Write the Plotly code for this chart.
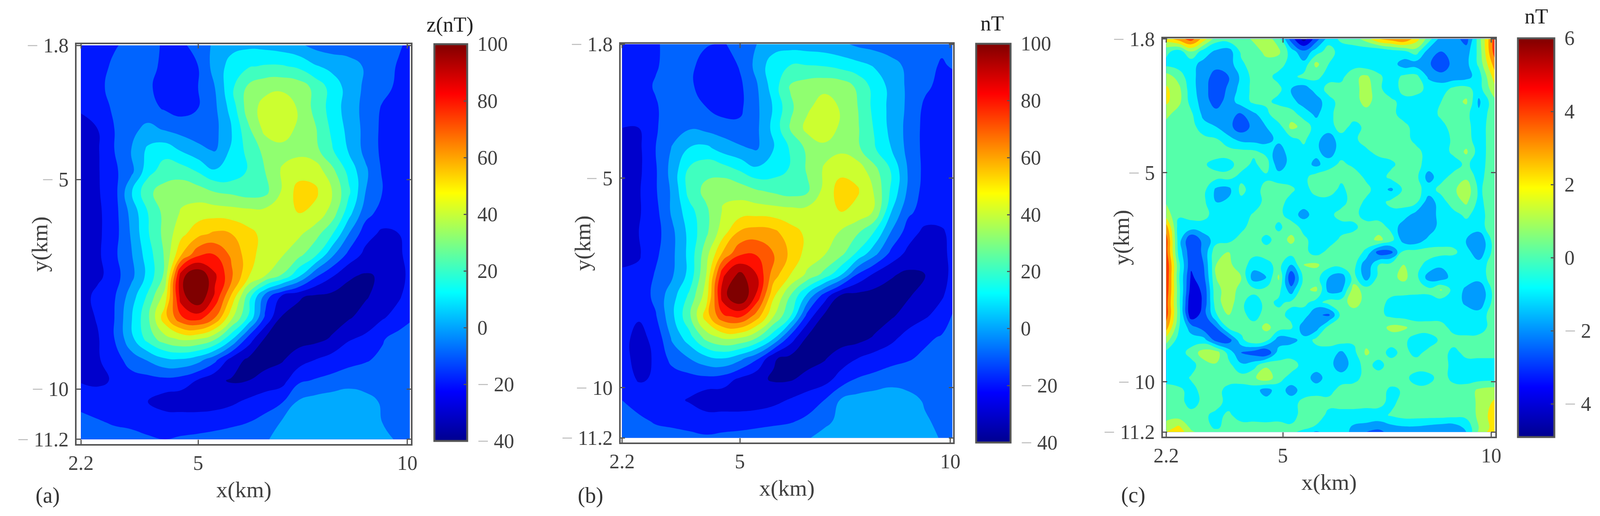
import plotly.graph_objects as go

x_km_a = [2.2,2.6,3.0,3.4,3.8,4.2,4.6,5.0,5.4,5.8,6.2,6.6,7.0,7.4,7.8,8.2,8.6,9.0,9.4,9.8,10.06]
y_km_ab = [-1.8,-2.3,-2.8,-3.3,-3.8,-4.3,-4.8,-5.3,-5.8,-6.3,-6.8,-7.3,-7.8,-8.3,-8.8,-9.3,-9.8,-10.3,-10.8,-11.2]
z_a = [
[-15,-14,-11,-7,-5,-12,-12,-6,2,7,8,7,5,2,-3,-5,-5,-6,-7,-9,-12],
[-16,-14,-8,-6,-3,-15,-15,-10,4,14,19,21,21,18,11,7,4,-1,-6,-11,-15],
[-17,-13,-6,-4,-8,-15,-16,-10,0,18,32,37,38,36,27,16,6,-2,-7,-12,-15],
[-19,-16,-8,-6,-7,-11,-14,-10,-2,14,35,44,47,39,27,16,5,-3,-11,-14,-16],
[-23,-20,-10,-3,3,-1,-4,-6,-3,10,28,43,45,38,31,18,7,-3,-12,-15,-16],
[-24,-21,-10,0,12,16,9,3,-1,12,23,33,37,37,33,21,9,-3,-12,-15,-16],
[-25,-21,-12,-3,16,25,25,19,11,13,21,30,41,46,46,33,17,2,-11,-15,-16],
[-25,-21,-14,9,28,34,37,35,30,28,25,27,41,54,52,40,22,0,-10,-15,-16],
[-25,-22,-14,3,20,33,41,45,46,45,44,44,46,50,47,36,14,-6,-14,-17,-17],
[-25,-22,-14,1,19,33,47,57,62,60,53,47,44,42,34,21,0,-16,-22,-20,-18],
[-25,-22,-12,-1,15,31,60,78,80,68,55,44,41,33,22,2,-13,-23,-25,-21,-18],
[-26,-23,-14,-3,13,32,97,110,92,72,51,40,29,12,-8,-19,-29,-31,-29,-23,-18],
[-26,-16,-11,5,22,44,96,110,88,58,25,-5,-22,-29,-32,-33,-33,-31,-26,-21,-16],
[-25,-19,-10,9,28,56,79,85,70,42,19,-12,-31,-33,-34,-34,-31,-26,-21,-16,-12],
[-24,-21,-10,7,24,36,42,41,32,12,-14,-31,-33,-34,-33,-29,-21,-18,-11,-6,-3],
[-23,-21,-15,-5,1,8,9,4,-7,-24,-32,-33,-31,-25,-20,-16,-13,-11,-8,-4,-2],
[-21,-22,-19,-15,-14,-13,-15,-21,-28,-31,-30,-27,-24,-12,-9,-7,-5,-4,-3,-2,-1],
[-13,-15,-17,-18,-20,-25,-26,-26,-25,-22,-18,-14,-11,1,4,6,8,3,-1,-3,-4],
[-7,-9,-11,-12,-13,-14,-14,-14,-13,-12,-10,-7,1,4,6,7,7,6,0,-2,-3],
[-4,-5,-6,-7,-9,-10,-9,-8,-7,-5,-3,-1,3,5,6,7,7,6,2,-1,-2],
]
x_km_b = [2.2,2.6,3.0,3.4,3.8,4.2,4.6,5.0,5.4,5.8,6.2,6.6,7.0,7.4,7.8,8.2,8.6,9.0,9.4,9.8,10.05]
z_b = [
[-13,-12,-11,-7,-3,-9,-11,-6,0,5,6,5,4,2,-2,-4,-5,-6,-7,-8,-9],
[-15,-14,-11,-6,-7,-15,-16,-9,3,16,20,20,19,16,13,9,3,-2,-7,-11,-9],
[-16,-14,-9,-5,-8,-15,-17,-12,-1,15,31,35,37,36,28,16,7,-2,-8,-13,-14],
[-17,-15,-11,-5,-6,-10,-15,-12,-2,11,28,38,45,39,30,17,7,-2,-12,-15,-15],
[-20,-20,-11,-4,-1,-3,-5,-8,-2,13,31,43,47,38,31,19,7,-3,-13,-16,-16],
[-23,-22,-10,1,11,13,6,2,-1,10,21,32,37,38,32,21,10,-3,-13,-16,-17],
[-24,-22,-11,4,22,27,25,19,12,15,21,31,41,47,46,33,19,-1,-13,-16,-17],
[-24,-21,-11,2,24,33,38,36,31,28,25,28,43,55,51,39,18,-2,-14,-16,-17],
[-24,-21,-13,2,16,28,41,45,46,45,44,44,46,50,47,39,10,-8,-14,-17,-17],
[-24,-20,-14,-2,13,28,46,62,65,63,54,48,44,39,31,19,-1,-15,-23,-21,-18],
[-22,-21,-12,-2,13,36,62,78,79,70,58,46,41,33,18,3,-13,-23,-26,-22,-18],
[-19,-18,-9,-1,13,40,88,103,90,65,50,38,27,11,-11,-22,-29,-32,-30,-23,-18],
[-18,-17,-7,6,22,45,96,112,88,52,30,8,-14,-31,-33,-34,-34,-31,-26,-21,-16],
[-20,-19,-11,8,28,55,78,82,65,40,20,-14,-32,-34,-35,-35,-31,-26,-21,-16,-9],
[-17,-23,-17,2,16,34,42,41,31,13,-14,-31,-34,-35,-34,-29,-23,-16,-12,-9,-4],
[-17,-23,-19,-6,0,7,10,3,-8,-29,-33,-34,-31,-25,-20,-16,-13,-11,-8,-5,-3],
[-15,-21,-19,-16,-14,-13,-15,-22,-28,-31,-31,-27,-24,-16,-9,-7,-5,-4,-3,-2,-1],
[-10,-14,-16,-17,-21,-27,-27,-27,-26,-23,-19,-15,-10,1,4,6,8,3,-1,-3,-4],
[-6,-8,-11,-12,-13,-14,-14,-14,-13,-12,-11,-8,-3,3,6,7,7,6,1,-2,-3],
[-4,-5,-6,-7,-8,-9,-8,-7,-6,-5,-3,-1,4,5,6,7,7,6,4,-1,-2],
]
x_km_c = [2.2,2.5,2.8,3.1,3.4,3.7,4.0,4.3,4.6,4.9,5.2,5.5,5.8,6.1,6.4,6.7,7.0,7.3,7.6,7.9,8.2,8.5,8.8,9.1,9.4,9.7,10.08]
y_km_c = [-1.8,-2.1,-2.4,-2.7,-3.0,-3.3,-3.6,-3.9,-4.2,-4.5,-4.8,-5.1,-5.4,-5.7,-6.0,-6.3,-6.6,-6.9,-7.2,-7.5,-7.8,-8.1,-8.4,-8.7,-9.0,-9.3,-9.6,-9.9,-10.2,-10.5,-10.8,-11.1,-11.2]
z_c = [
[2.5,3.5,4.5,2.5,0.5,0.5,0.5,1.2,1.5,0.5,-2.5,-4.5,-2.5,-0.5,0.2,0.5,1.5,3,3.5,4,2.5,0.5,-1.5,-1.5,-2.5,0.5,4.5],
[0.3,-0.5,1.0,-0.5,-1.2,-1.5,0.2,0.5,1.3,1.2,-0.5,-1.8,-0.5,0.5,-0.5,-0.5,-0.8,-1.0,-0.5,-0.2,0.5,-1.5,-2.0,-1.5,-1.5,0.3,4.5],
[-0.3,-0.5,-0.7,-1.3,-1.6,-1.5,-0.2,0.5,0.6,0.5,-0.5,-0.7,1.3,0.0,-0.5,-0.5,-0.7,-0.6,-0.5,-1.5,-1.5,-1.8,-3.0,-1.5,-1.3,0.2,3.5],
[1.5,0.6,-0.7,-1.5,-2.5,-2.0,-0.8,0.4,0.4,-0.4,-0.3,0.3,0.2,-0.3,-0.3,0.8,1.2,0.2,-0.5,0.2,0.3,-1.2,-1.5,-1.6,-1.4,-0.5,2.5],
[2.2,1.3,-0.6,-1.6,-2.7,-1.8,-0.6,0.3,0.4,0.3,-1.0,-1.6,-0.5,0.3,0.4,0.5,1.6,0.2,-0.5,0.3,0.4,-0.3,-0.5,0.3,0.4,-0.5,1.7],
[2.2,1.3,-0.4,-1.5,-2.5,-1.5,-0.5,0.2,0.3,-0.4,-0.7,-1.4,-1.6,-0.3,0.3,0.4,1.5,0.3,0.2,-0.3,-0.5,-0.5,0.0,0.5,1.2,-1.2,0.7],
[1.3,0.5,0.2,-1.3,-1.6,-1.8,-2.1,-1.2,-0.4,1.0,0.5,-0.5,-1.2,-0.3,0.5,0.4,0.4,0.3,0.3,-0.4,-0.5,-0.5,0.2,0.5,0.3,-0.8,0.7],
[0.6,0.5,0.4,-0.6,-1.0,-1.7,-2.6,-1.7,-1.0,-0.5,1.3,0.7,-0.5,-0.4,0.4,-0.3,0.2,0.4,0.4,0.3,-0.4,-0.5,-0.3,0.4,0.3,-0.5,0.6],
[0.6,0.5,0.5,0.3,0.1,-0.7,-1.3,-1.4,-1.4,-0.7,-0.3,0.2,-0.7,-1.6,-0.4,-0.2,0.4,0.4,0.5,0.4,-0.3,-0.5,-0.5,0.2,0.4,-0.5,0.6],
[0.6,0.5,0.5,0.5,0.4,0.4,0.3,0.2,-0.3,-1.6,-0.4,-0.3,-0.7,-1.6,-0.4,-0.4,-0.2,0.3,0.4,0.4,0.3,-0.4,-0.4,0.2,1.2,-0.5,0.6],
[0.7,0.5,0.4,0.1,-0.3,-0.3,0.4,-0.2,0.5,-1.7,-0.5,-0.5,-1.3,-0.4,0.2,-0.2,-0.5,-0.5,-0.2,0.4,0.3,-0.4,-0.5,-0.4,0.2,-0.5,0.7],
[0.8,0.5,0.5,0.4,0.3,0.3,-0.3,-0.4,-0.2,-0.4,-0.5,-0.3,0.5,0.6,0.3,0.5,-0.2,-0.5,0.3,0.4,0.3,-1.5,-0.3,0.3,0.8,-0.4,0.8],
[0.9,0.5,0.5,0.3,-1.2,-1.3,0.3,-0.5,0.4,0.4,0.2,-0.5,0.5,0.6,-0.3,0.6,0.3,-0.5,-1.2,0.2,0.3,-0.4,0.3,0.8,1.7,-0.2,0.7],
[0.9,0.5,0.4,0.2,-1.0,-0.8,-0.3,-0.5,0.3,0.4,-0.4,-0.5,-0.5,-0.5,-0.4,0.5,-0.2,-0.4,0.3,0.4,0.2,-1.6,-0.4,0.5,1.2,-0.3,0.7],
[1.5,0.2,0.4,0.3,-0.4,-0.5,-0.4,0.1,0.4,0.3,-0.5,-1.4,-0.5,-0.3,0.4,0.3,-0.4,-0.5,-0.4,-0.5,-1.4,-1.7,-0.5,-0.3,0.2,-0.4,0.6],
[3.5,-0.5,-0.5,-0.4,-0.4,-0.3,-0.3,0.5,0.5,-0.2,0.5,-0.3,-0.5,-0.5,-0.4,-0.2,0.4,0.5,-0.3,-1.6,-1.6,-1.7,-0.5,-0.3,-0.4,-0.4,0.6],
[4.5,-0.5,-3.0,-1.6,-0.5,-0.3,0.4,0.5,-0.3,0.4,1.3,0.2,-0.4,-0.5,0.2,0.4,0.5,1.3,0.4,-1.5,-1.7,-0.7,-0.4,-0.4,-1.0,-2.0,0.6],
[4.5,-0.3,-2.8,-1.8,0.8,1.0,0.4,0.3,0.4,0.4,0.4,0.3,-0.4,0.3,0.4,0.5,-0.2,-2.5,-2.3,0.3,0.4,0.4,0.3,0.2,-0.5,-1.8,0.5],
[5,0.3,-2.8,-2.0,1.0,1.2,0.5,-0.5,-0.3,0.3,-1.0,1.0,1.2,0.4,0.4,0.4,-1.8,0.0,0.4,1.0,0.3,-0.3,-0.8,-0.7,-0.4,-0.5,0.5],
[5,0.2,-3.2,-2.3,1.0,1.2,1.0,-1.6,-1.0,1.2,-3.0,0.3,0.4,-1.0,-1.6,0.4,-1.5,0.3,0.7,1.3,0.3,-1.5,-1.6,-0.5,-0.5,-0.5,0.5],
[4.8,0.4,-3.5,-2.8,0.8,1.3,0.8,0.3,0.3,0.3,-1.6,0.8,1.2,-1.4,-1.3,1.5,0.5,0.3,0.4,0.4,0.3,0.3,1.1,-0.4,-1.2,-2.0,0.5],
[4.5,0.4,-4.0,-2.8,0.6,1.6,0.2,-0.5,0.3,-0.2,0.2,0.3,-0.4,0.4,0.5,1.5,0.6,0.4,-0.3,-0.5,-0.5,-0.5,-0.5,-0.5,-1.2,-1.8,0.5],
[4.5,0.5,-3.8,-2.5,-0.1,1.0,0.3,-0.4,0.4,0.3,-0.3,-0.5,-1.8,-2.2,0.3,0.4,0.4,0.3,-0.3,-0.5,-0.5,-0.5,-0.5,-0.5,-0.5,-0.5,0.5],
[3.5,0.1,-1.5,-2.5,-2.0,0.2,0.4,0.4,1.3,0.5,0.2,-1.6,-1.5,0.4,1.0,0.3,0.4,0.5,1.3,1.2,0.5,0.5,0.4,-0.4,-0.5,-0.5,0.5],
[1.5,-0.5,-0.5,-0.6,-2.4,-2.5,-0.3,0.9,0.3,-1.6,-1.3,-0.7,0.3,0.4,0.5,0.2,0.6,0.5,0.4,0.2,-0.4,-0.5,0.2,0.4,0.3,0.4,0.5],
[-0.3,-0.5,0.4,1.5,1.5,-0.4,-2.0,-2.5,-3.0,-0.5,-0.4,-0.4,-0.5,-0.4,-1.2,-0.3,1.2,0.4,-0.3,0.3,-0.3,0.3,0.4,-0.3,0.3,0.4,0.4],
[-0.4,-0.5,-0.4,0.6,0.9,0.3,-0.8,-0.4,0.8,0.3,0.4,-0.3,-0.4,-0.5,-1.8,-0.4,0.3,-0.3,0.4,0.5,0.5,0.5,0.4,-0.3,-0.4,-0.5,-0.5],
[-0.3,-0.5,0.1,0.4,0.4,0.4,0.4,0.8,1.8,0.3,-0.3,-0.4,-1.5,-0.5,-0.4,-0.3,0.3,0.4,0.5,0.3,-0.4,-0.3,0.4,-0.3,-0.4,-0.5,-0.5],
[0.3,0.2,-0.3,0.3,0.3,-0.3,-0.4,-0.5,-1.5,-0.4,-1.5,-0.5,-0.4,-0.3,0.3,0.4,1.0,0.4,-0.2,0.1,0.3,0.3,0.4,0.4,0.4,1.2,1.5],
[0.4,0.3,-0.3,0.2,0.4,-0.4,-0.5,-0.5,-0.5,-0.5,-0.4,0.3,0.5,0.3,0.4,0.4,0.3,0.2,-0.2,0.3,0.4,0.4,0.4,0.4,0.4,1.2,2.2],
[0.6,0.5,0.3,0.2,-0.3,0.2,-0.5,-0.4,-0.5,-0.4,-0.4,0.4,0.6,-0.3,-0.4,-0.4,-0.4,-0.3,0.1,0.4,0.4,0.4,0.4,0.3,0.3,1.2,2.6],
[1.5,2.3,0.8,0.5,-0.2,0.5,0.5,0.4,0.4,0.4,0.2,0.2,-0.2,-0.4,-0.5,-1.2,-1.4,-1.8,-1.4,-1.2,-1.2,-1.4,-1.6,-1.6,-0.8,1.0,2.5],
[2.0,2.7,1.2,0.6,0.6,1.0,1.0,0.4,0.4,0.4,0.2,-0.3,-1.2,-0.5,-0.5,-1.3,-2,-2.3,-1.6,-1.4,-1.5,-1.7,-2,-2,-1,1.2,2.8],
]
x_ticks = [2.2, 5, 10]
x_ticktext = ["2.2", "5", "10"]
y_ticks = [-1.8, -5, -10, -11.2]
y_ticktext = ["1.8", "5", "10", "11.2"]
cbar_ticks_ab = [100, 80, 60, 40, 20, 0, -20, -40]
cbar_ticks_c = [6, 4, 2, 0, -2, -4]
band_colors_ab = ["#00008B","#0000CC","#0018FF","#0064FF","#00AAFF","#00F4FF","#40FFBF","#90FF70","#CCFF30","#FFD800","#FFA000","#FF5800","#FF1000","#BF0000","#7F0000"]
band_colors_c = ["#00009F","#0000E0","#0050FF","#009CFF","#00F0FF","#55FFAA","#AAFF55","#FFE600","#FF9A00","#FF3A00","#D00000"]
jet = [[0,"#00008F"],[0.125,"#0000FF"],[0.375,"#00FFFF"],[0.625,"#FFFF00"],[0.875,"#FF0000"],[1,"#800000"]]

W, H = 4176, 1320
GREY = "#555555"
TXT = "#404040"
SERIF = "Liberation Serif"

def faint(t, gap=" "):
    return '<span style="color:#bdbdbd">−</span>' + gap + t

panels = [
  dict(x=x_km_a, y=y_km_ab, z=z_a, frame=(200,1073,113,1136), xr=(2.097,10.09), yr=(-11.315,-1.772),
       cb=(1134,1220,113,1128), zr=(-40,100), start=-30, end=100, size=10, colors=band_colors_ab, ct=cbar_ticks_ab, ytx=103),
  dict(x=x_km_b, y=y_km_ab, z=z_b, frame=(1620,2488,112,1132), xr=(2.168,10.07), yr=(-11.31,-1.79),
       cb=(2548,2638,112,1132), zr=(-40,100), start=-30, end=100, size=10, colors=band_colors_ab, ct=cbar_ticks_ab, ytx=1520),
  dict(x=x_km_c, y=y_km_c, z=z_c, frame=(3035,3903,98,1117), xr=(2.12,10.10), yr=(-11.31,-1.785),
       cb=(3962,4057,98,1118), zr=(-4.9,6), start=-4, end=5, size=1, colors=band_colors_c, ct=cbar_ticks_c, ytx=2927),
]

def note(text, px, py, size=56, color="#333333", angle=0, xanchor="center"):
    return dict(text=text, x=px/W, y=1-py/H, xref="paper", yref="paper", xanchor=xanchor, yanchor="middle",
                showarrow=False, textangle=angle, font=dict(family=SERIF, size=size, color=color))

fig = go.Figure()
layout = dict(autosize=True, margin=dict(l=0,r=0,t=0,b=0,pad=0,autoexpand=False), plot_bgcolor="white", paper_bgcolor="white",
              font=dict(family=SERIF, size=52, color=TXT), showlegend=False)
notes = [
    note("(a)", 124, 1267), note("(b)", 1541, 1267), note("(c)", 2958, 1266),
    note("z(nT)", 1175, 63, 54, "#222222"), note("nT", 2590, 60, 54, "#222222"), note("nT", 4010, 42, 54, "#222222"),
]
for i, p in enumerate(panels, start=1):
    sfx = "" if i == 1 else str(i)
    l, r, t, b = p["frame"]
    n = len(p["colors"])
    cs = [[k/(n-1), c] for k, c in enumerate(p["colors"])]
    cl, cr, ct, cb = p["cb"]
    zlo, zhi = p["zr"]
    fig.add_trace(go.Heatmap(x=p["x"], y=p["y"], z=p["z"], opacity=0, colorscale=jet, zmin=zlo, zmax=zhi,
        xaxis="x"+sfx, yaxis="y"+sfx, hoverinfo="skip", showscale=True,
        colorbar=dict(x=cl/W, xanchor="left", y=1-ct/H, yanchor="top", thickness=(cr-cl)/W, thicknessmode="fraction",
            len=(cb-ct)/H, lenmode="fraction", xpad=0, ypad=0, outlinecolor=GREY, outlinewidth=5,
            ticks="inside", ticklen=11, tickwidth=3, tickcolor=GREY, tickvals=p["ct"], showticklabels=False)))
    # colour-bar labels sit at the reference's distance from the bar, a gap the native labels cannot reach
    for v in p["ct"]:
        vy = ct + (zhi - v) / (zhi - zlo) * (cb - ct)
        notes.append(note(str(v) if v >= 0 else faint(str(-v)), cr + 24, vy, 52, TXT, xanchor="left"))
    fig.add_trace(go.Contour(x=p["x"], y=p["y"], z=p["z"], xaxis="x"+sfx, yaxis="y"+sfx, colorscale=cs, showscale=False,
        autocontour=False, contours=dict(start=p["start"], end=p["end"], size=p["size"], coloring="fill", showlines=False),
        line=dict(width=0, smoothing=1.3), hoverinfo="skip"))
    ax = dict(showgrid=False, zeroline=False, showline=True, linecolor=GREY, linewidth=4, mirror="ticks",
              ticks="inside", ticklen=11, tickwidth=3, tickcolor=GREY, tickfont=dict(family=SERIF, size=52, color=TXT))
    layout["xaxis"+sfx] = dict(ax, domain=[l/W, r/W], anchor="y"+sfx, range=list(p["xr"]), tickvals=x_ticks, ticktext=x_ticktext,
        title=dict(text="x(km)", font=dict(family=SERIF, size=58, color=TXT), standoff=20))
    layout["yaxis"+sfx] = dict(ax, domain=[1-b/H, 1-t/H], anchor="x"+sfx, range=list(p["yr"]), tickvals=y_ticks,
        ticktext=[faint(s) for s in y_ticktext], ticklabelstandoff=6)
    notes.append(note("y(km)", p["ytx"], (t+b)/2, 58, TXT, -90))

layout["annotations"] = notes
fig.update_layout(**layout)
fig.write_html("out.html", config={"displayModeBar": False, "responsive": True}, default_width="100vw", default_height="100vh",
               post_script="document.body.style.margin='0';document.documentElement.style.overflow='hidden';window.dispatchEvent(new Event('resize'));")
